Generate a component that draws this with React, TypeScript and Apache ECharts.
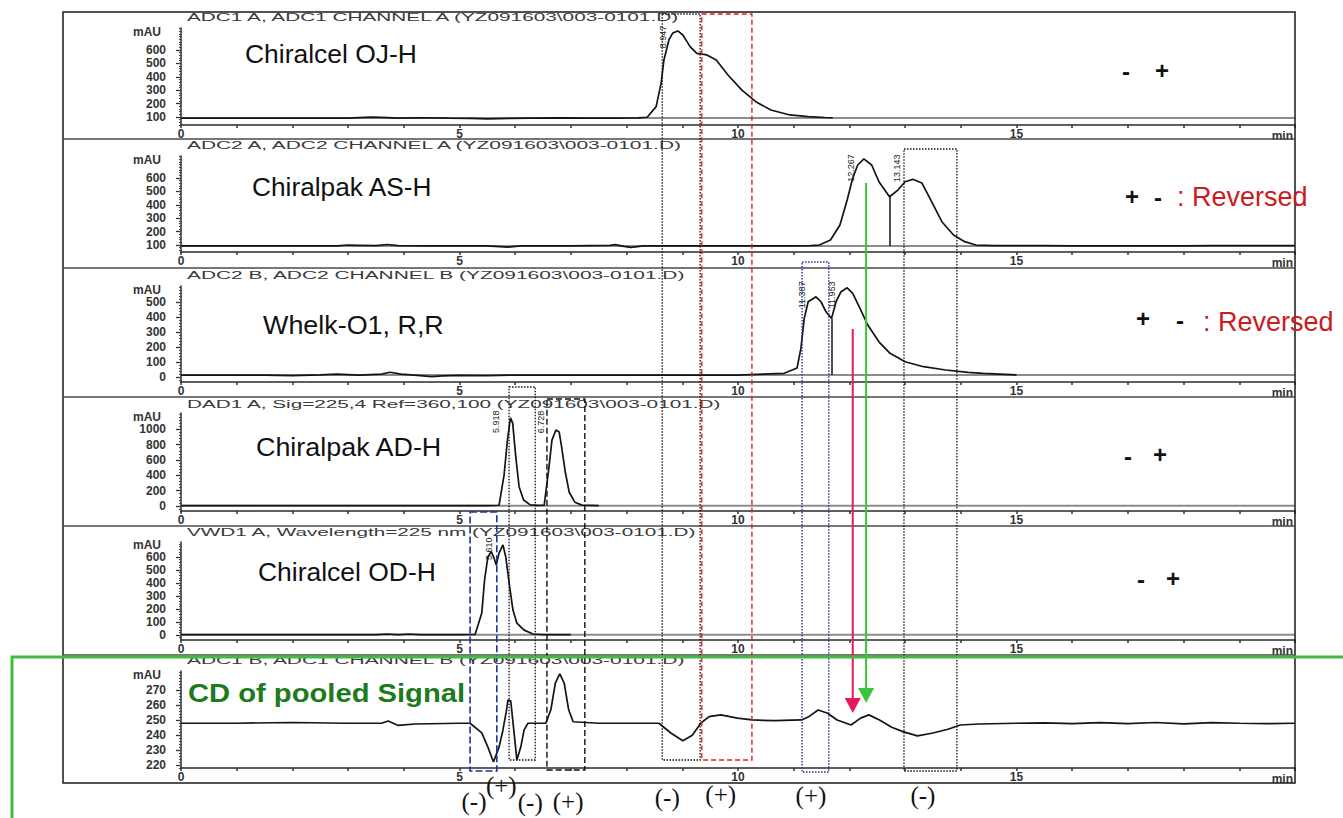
import React, { useEffect, useRef } from "react";
import * as echarts from "echarts";

// ---------------- data ----------------
const panelNames = ["Chiralcel OJ-H", "Chiralpak AS-H", "Whelk-O1, R,R", "Chiralpak AD-H", "Chiralcel OD-H"];
const panelTitles = [
  "ADC1 A, ADC1 CHANNEL A (YZ091603\\003-0101.D)",
  "ADC2 A, ADC2 CHANNEL A (YZ091603\\003-0101.D)",
  "ADC2 B, ADC2 CHANNEL B (YZ091603\\003-0101.D)",
  "DAD1 A, Sig=225,4 Ref=360,100 (YZ091603\\003-0101.D)",
  "VWD1 A, Wavelength=225 nm (YZ091603\\003-0101.D)",
  "ADC1 B, ADC1 CHANNEL B (YZ091603\\003-0101.D)",
];
const cdLabel = "CD of pooled Signal";
const xTickLabels = [0, 5, 10, 15];
const minuteTicks = [0, 1, 2, 3, 4, 5, 6, 7, 8, 9, 10, 11, 12, 13, 14, 15, 16, 17, 18, 19, 20];
const yTicksOJ = [100, 200, 300, 400, 500, 600];
const yTicksAS = [100, 200, 300, 400, 500, 600];
const yTicksWhelk = [0, 100, 200, 300, 400, 500];
const yTicksAD = [0, 200, 400, 600, 800, 1000];
const yTicksOD = [0, 100, 200, 300, 400, 500, 600];
const yTicksCD = [220, 230, 240, 250, 260, 270];

const ojTime = [0, 0.8, 1.5, 2.2, 3.0, 3.4, 3.6, 3.9, 4.3, 4.8,
  5.2, 5.5, 5.9, 6.3, 6.8, 7.3, 7.8, 8.2, 8.37, 8.53,
  8.62, 8.67, 8.76, 8.83, 8.92, 9.01, 9.14, 9.26, 9.44, 9.61,
  9.82, 10.07, 10.32, 10.59, 10.93, 11.26, 11.56, 11.7];
const ojSignal = [92, 92, 91, 92, 92, 99, 97, 92, 94, 91,
  89, 86, 90, 92, 93, 91, 92, 93, 98, 177,
  353, 525, 675, 727, 742, 712, 625, 575, 563, 525,
  413, 300, 214, 152, 115, 102, 96, 94];

const asTime = [0, 1.0, 2.0, 2.8, 3.0, 3.2, 3.5, 3.7, 3.9, 4.5,
  5.5, 5.87, 6.1, 7.0, 7.7, 7.8, 7.95, 8.08, 8.3, 9.0,
  10.0, 11.0, 11.3, 11.46, 11.66, 11.83, 11.96, 12.06, 12.15, 12.26,
  12.40, 12.53, 12.72, 12.87, 13.0, 13.14, 13.30, 13.46, 13.66, 13.87,
  14.07, 14.27, 14.6, 15.5, 16.0, 17.0, 18.0, 18.5, 19.0, 20];
const asSignal = [93, 93, 93, 93, 100, 98, 95, 104, 95, 93,
  93, 85, 93, 93, 97, 103, 90, 82, 93, 93,
  93, 94, 96, 100, 137, 249, 436, 600, 697, 742,
  697, 572, 460, 510, 572, 590, 563, 436, 274, 175,
  125, 100, 96, 95, 93, 93, 94, 96, 95, 95];

const whelkTime = [0, 1.5, 2.0, 2.5, 2.8, 3.2, 3.6, 3.75, 3.95, 4.3,
  4.5, 4.7, 5.0, 5.5, 6.0, 8.0, 10.0, 10.83, 11.06, 11.13,
  11.19, 11.26, 11.40, 11.49, 11.58, 11.68, 11.76, 11.85, 11.96, 12.06,
  12.19, 12.33, 12.53, 12.73, 13.0, 13.33, 13.73, 14.13, 14.4, 14.8,
  15.0];
const whelkSignal = [15, 15, 12, 16, 21, 15, 22, 34, 22, 12,
  5, 10, 13, 12, 15, 15, 15, 27, 62, 195,
  395, 504, 537, 504, 437, 393, 504, 571, 597, 560,
  460, 349, 237, 160, 104, 71, 49, 33, 27, 20,
  16];

const adTime = [0, 2, 4, 5.0, 5.5, 5.71, 5.80, 5.86, 5.915, 5.955,
  6.01, 6.07, 6.15, 6.27, 6.4, 6.52, 6.60, 6.66, 6.73, 6.79,
  6.84, 6.90, 6.97, 7.07, 7.2, 7.5];
const adSignal = [5, 5, 5, 5, 5, 10, 404, 860, 1150, 1080,
  643, 252, 78, 15, 8, 10, 469, 860, 990, 965,
  740, 440, 180, 50, 12, 5];

const odTime = [0, 3.5, 3.7, 3.9, 4.1, 4.3, 4.5, 5.0, 5.28, 5.40,
  5.45, 5.51, 5.57, 5.62, 5.66, 5.71, 5.78, 5.83, 5.90, 5.96,
  6.03, 6.16, 6.32, 6.5, 7.0];
const odSignal = [3, 3, 8, 3, 8, 3, 3, 3, 5, 169,
  423, 602, 641, 592, 538, 630, 692, 602, 372, 192,
  92, 38, 8, 3, 3];

const cdTime = [0, 1, 2, 3, 3.6, 3.72, 3.9, 4.2, 5.0, 5.19,
  5.40, 5.51, 5.61, 5.71, 5.78, 5.84, 5.87, 5.92, 5.98, 6.03,
  6.10, 6.16, 6.23, 6.55, 6.64, 6.72, 6.80, 6.88, 6.96, 7.04,
  7.5, 8.3, 8.58, 8.80, 9.01, 9.18, 9.33, 9.48, 9.69, 9.99,
  10.25, 10.66, 11.14, 11.27, 11.44, 11.61, 11.78, 12.03, 12.20, 12.35,
  12.54, 12.76, 12.96, 13.22, 13.48, 13.77, 13.99, 14.33, 15, 15.5,
  16, 16.5, 17, 17.5, 18, 18.5, 19, 19.5, 20];
const cdSignal = [248, 248, 248.5, 248, 248, 249.5, 246.5, 247.5, 248, 248,
  241.5, 232, 222, 232, 243.5, 256, 263.6, 263, 241.5, 223.4,
  232, 243.5, 248, 248, 257, 274.8, 281, 274.8, 257, 249,
  248, 248, 248, 241.3, 236.3, 240, 248, 252.4, 253.6, 251.4,
  250.2, 249.7, 250.2, 252.4, 256.9, 254.7, 250.2, 246.8, 251.4, 253.6,
  250.2, 245.3, 242.4, 239.5, 241.3, 244, 246.8, 247.5, 248, 248.3,
  247.7, 248.4, 247.8, 248.5, 247.6, 248.4, 248, 247.7, 248];

const baselines = [92, 93, 15, 2, 2];
const peakTimes = [[8.92], [12.26, 13.14], [11.40, 11.96], [5.915, 6.73], [5.57], []];
const peakValues = [[742], [742, 590], [537, 597], [1150, 990], [641], []];
const peakLabels = [["8.947"], ["12.267", "13.143"], ["11.387", "11.953"], ["5.918", "6.728"], ["5.610"], []];
const dropTimes = [[], [12.72], [11.68], [], [], []];
const dropValues = [[], [460], [393], [], [], []];
const elutionSigns = [["-", "+"], ["+", "-"], ["+", "-"], ["-", "+"], ["-", "+"]];
const reversedText = ": Reversed";
const reversedPanels = [false, true, true, false, false];
const cdSigns = ["(-)", "(+)", "(-)", "(+)", "(-)", "(+)", "(+)", "(-)"];
const cdSignTimes = [5.26, 5.75, 6.27, 6.95, 8.73, 9.69, 11.31, 13.32];
const boxTimes = [[8.64, 9.32], [9.35, 10.25], [12.98, 13.93], [11.15, 11.63], [5.89, 6.36], [6.57, 7.25], [5.19, 5.67]];
const arrowTimes = [12.30, 12.06];

// ---------------- layout / style ----------------
const W = 1343, H = 818;
const SANS = "'Liberation Sans', Arial, Helvetica, sans-serif";
const SERIF = "'Liberation Serif', 'Times New Roman', serif";
const PLOT_LEFT = 181, PLOT_RIGHT = 1295;
const GRID_TOP = [28, 156, 286, 413, 542, 671];
const GRID_BOTTOM = [125, 252, 382, 511, 640, 768];
const Y_MIN = [40, 48, -31, -65, -38, 218];
const Y_MAX = [764, 764, 609, 1213, 715, 283];
const MINOR_STEP = [20, 20, 20, 40, 20, 2];
const Y_TICKS = [yTicksOJ, yTicksAS, yTicksWhelk, yTicksAD, yTicksOD, yTicksCD];
const SIGNALS = [[ojTime, ojSignal], [asTime, asSignal], [whelkTime, whelkSignal], [adTime, adSignal], [odTime, odSignal], [cdTime, cdSignal]];
const TITLE_Y = [17, 145, 275, 404, 532, 660];
const TITLE_W = [497, 500, 500, 535, 510, 500];
const NAME_POS = [[245, 54.5, 172], [252, 187, 181], [263, 325, 181], [256, 447, 187], [258, 572, 178]];
const SIGN_POS = [[[1126, 71], [1162, 70]], [[1132, 196], [1158, 197]], [[1143, 318], [1180, 320]], [[1128, 456], [1160, 454]], [[1141, 579], [1173, 578]]];
const REVERSED_POS = [null, [1177, 197], [1203, 322], null, null];
const PEAK_OFFSET = [[[-15, 6]], [[-13, 9], [-16, -11]], [[-14, -2], [-15, 7]], [[-14, 4], [-15, -8]], [[-2, -3]], []];
const CD_SIGN_Y = [801, 785, 802, 801, 797, 794, 795, 795];
const BOX_STYLE = [
  { top: 14, bottom: 760, color: "#111", dash: [1.5, 1.5], w: 1.3 },
  { top: 14, bottom: 760, color: "#e0201c", dash: [5, 3], w: 1.4 },
  { top: 149, bottom: 771, color: "#111", dash: [1.5, 1.5], w: 1.3 },
  { top: 262, bottom: 772, color: "#2a2aa0", dash: [1.5, 1.5], w: 1.4 },
  { top: 387, bottom: 760, color: "#111", dash: [1.5, 1.5], w: 1.3 },
  { top: 399, bottom: 770, color: "#111", dash: [6, 3], w: 1.4 },
  { top: 512, bottom: 771, color: "#1f3399", dash: [7, 3], w: 1.6 },
];
const ARROW_STYLE = [
  { top: 183, tip: 703, color: "#3cc43c" },
  { top: 329, tip: 713, color: "#e8185c" },
];

let measureCtx: CanvasRenderingContext2D | null = null;
function measure(text: string, font: string) {
  if (!measureCtx) measureCtx = document.createElement("canvas").getContext("2d");
  if (!measureCtx) return 1;
  measureCtx.font = font;
  return measureCtx.measureText(text).width || 1;
}

const plainNumber = (v: number) => String(v);

function buildOption() {
  const grid: any[] = [], xAxis: any[] = [], yAxis: any[] = [], series: any[] = [];
  for (let i = 0; i < 6; i++) {
    grid.push({
      left: PLOT_LEFT, right: W - PLOT_RIGHT, top: GRID_TOP[i], height: GRID_BOTTOM[i] - GRID_TOP[i],
      containLabel: false, outerBoundsMode: "none",
    });
    xAxis.push({
      type: "value", gridIndex: i, min: 0, max: 20,
      axisLine: { show: true, onZero: false, lineStyle: { color: "#2a2a2a", width: 1.5 } },
      axisTick: { show: true, customValues: minuteTicks, length: 3, inside: false, lineStyle: { color: "#333", width: 1.5 } },
      axisLabel: { show: true, customValues: xTickLabels, formatter: plainNumber, fontSize: 12, fontWeight: "bold", color: "#333", fontFamily: SANS, margin: 3 },
      splitLine: { show: false },
      name: "min", nameLocation: "end", nameGap: -2,
      nameTextStyle: { fontSize: 12, fontWeight: "bold", color: "#333", fontFamily: SANS, align: "right", verticalAlign: "top", padding: [5, 0, 0, 0] },
    });
    const minors: number[] = [];
    for (let v = Math.ceil(Y_MIN[i] / MINOR_STEP[i]) * MINOR_STEP[i]; v <= Y_MAX[i]; v += MINOR_STEP[i]) minors.push(v);
    yAxis.push({
      type: "value", gridIndex: i, min: Y_MIN[i], max: Y_MAX[i], position: "left",
      axisLine: { show: true, onZero: false, lineStyle: { color: "#2a2a2a", width: 1.5 } },
      axisTick: { show: true, customValues: Y_TICKS[i], length: 5, lineStyle: { color: "#333", width: 1.3 } },
      axisLabel: { show: true, customValues: Y_TICKS[i], formatter: plainNumber, fontSize: 12, fontWeight: "bold", color: "#333", fontFamily: SANS, margin: 15 },
      splitLine: { show: false },
      name: "mAU", nameLocation: "end", nameGap: -4,
      nameTextStyle: { fontSize: 12, fontWeight: "bold", color: "#333", fontFamily: SANS, align: "right", verticalAlign: "middle", padding: [0, 20, 0, 0] },
    });
    yAxis.push({
      type: "value", gridIndex: i, min: Y_MIN[i], max: Y_MAX[i], position: "left",
      axisLine: { show: false, onZero: false },
      axisTick: { show: true, customValues: minors, length: 2, lineStyle: { color: "#444", width: 1 } },
      axisLabel: { show: false },
      splitLine: { show: false },
    });
    if (i < 5) {
      series.push({
        type: "line", xAxisIndex: i, yAxisIndex: 2 * i, symbol: "none", silent: true, z: 1,
        lineStyle: { color: "#8c8c8c", width: 2 },
        data: [[0, baselines[i]], [20, baselines[i]]],
      });
    }
    const [ts, vs] = SIGNALS[i];
    const markLineData = dropTimes[i].map((t, k) => [
      { coord: [t, i < 5 ? baselines[i] : 248] },
      { coord: [t, dropValues[i][k]] },
    ]);
    series.push({
      type: "line", xAxisIndex: i, yAxisIndex: 2 * i, symbol: "none", z: 3,
      lineStyle: { color: "#141414", width: 1.7 },
      data: ts.map((t, k) => [t, vs[k]]),
      markLine: markLineData.length ? {
        silent: true, symbol: ["none", "none"], label: { show: false },
        lineStyle: { color: "#141414", type: "solid", width: 1.5 },
        data: markLineData,
      } : undefined,
    });
  }
  return { animation: false, backgroundColor: "#ffffff", grid, xAxis, yAxis, series };
}

function txt(text: string, x: number, y: number, o: any = {}) {
  const fontSize = o.fontSize || 12;
  const fontWeight = o.fontWeight || "normal";
  const fontFamily = o.fontFamily || SANS;
  const align = o.align || "left";
  const el: any = {
    type: "text", x, y, z: o.z || 60, silent: true,
    style: {
      text, fill: o.fill || "#111", fontSize, fontWeight, fontFamily,
      align, textAlign: align, verticalAlign: "middle", textVerticalAlign: "middle",
    },
  };
  if (o.rotation) el.rotation = o.rotation;
  if (o.targetWidth) {
    const w = measure(text, `${fontWeight} ${fontSize}px ${fontFamily}`);
    el.scaleX = o.targetWidth / w;
  }
  return el;
}

function buildGraphic(chart: any) {
  const els: any[] = [];
  const px = (t: number) => chart.convertToPixel({ xAxisIndex: 0 }, t);

  // frame and panel separators
  els.push({ type: "rect", z: 5, silent: true, shape: { x: 63, y: 12, width: PLOT_RIGHT - 63, height: 783 - 12 }, style: { fill: "none", stroke: "#1a1a1a", lineWidth: 1.5 } });
  [139, 268, 397, 526, 655].forEach((y) => {
    els.push({ type: "line", z: 5, silent: true, shape: { x1: 63, y1: y, x2: PLOT_RIGHT, y2: y }, style: { stroke: "#4a4a4a", lineWidth: 1.6 } });
  });

  // titles
  panelTitles.forEach((t, i) => {
    els.push(txt(t, 187, TITLE_Y[i], { fontSize: 10, fill: "#3a3a3a", targetWidth: TITLE_W[i], z: 8 }));
  });
  // panel names
  panelNames.forEach((t, i) => {
    const [x, y, w] = NAME_POS[i];
    els.push(txt(t, x, y, { fontSize: 26, fill: "#111", targetWidth: w }));
  });
  els.push(txt(cdLabel, 188, 693, { fontSize: 26, fontWeight: "bold", fill: "#1d7a1d", targetWidth: 277 }));

  // elution order signs
  elutionSigns.forEach((pair, i) => {
    pair.forEach((s, k) => {
      const [x, y] = SIGN_POS[i][k];
      els.push(txt(s, x, y, { fontSize: 24, fontWeight: "bold", fill: "#111", align: "center" }));
    });
    const rp = REVERSED_POS[i];
    if (reversedPanels[i] && rp) els.push(txt(reversedText, rp[0], rp[1], { fontSize: 27, fill: "#cc1b1b", z: 70 }));
  });

  // peak retention-time labels
  peakTimes.forEach((ts, i) => {
    ts.forEach((t, k) => {
      const p = chart.convertToPixel({ xAxisIndex: i, yAxisIndex: 2 * i }, [t, peakValues[i][k]]);
      const off = PEAK_OFFSET[i][k];
      els.push(txt(peakLabels[i][k], p[0] + off[0], p[1] + off[1], { fontSize: 9, fill: "#222", align: "center", rotation: Math.PI / 2, z: 40 }));
    });
  });

  // boxes
  boxTimes.forEach((bt, k) => {
    const s = BOX_STYLE[k];
    const x0 = px(bt[0]), x1 = px(bt[1]);
    els.push({
      type: "rect", z: 50, silent: true,
      shape: { x: x0, y: s.top, width: x1 - x0, height: s.bottom - s.top },
      style: { fill: "none", stroke: s.color, lineWidth: s.w, lineDash: s.dash },
    });
  });

  // arrows
  arrowTimes.forEach((t, k) => {
    const s = ARROW_STYLE[k];
    const x = px(t);
    els.push({ type: "line", z: 55, silent: true, shape: { x1: x, y1: s.top, x2: x, y2: s.tip - 12 }, style: { stroke: s.color, lineWidth: 2 } });
    els.push({ type: "polygon", z: 55, silent: true, shape: { points: [[x - 8, s.tip - 15], [x + 8, s.tip - 15], [x, s.tip]] }, style: { fill: s.color } });
  });

  // CD sign annotations
  cdSigns.forEach((s, k) => {
    els.push(txt(s, px(cdSignTimes[k]), CD_SIGN_Y[k], { fontSize: 25, fontFamily: SERIF, fill: "#111", align: "center" }));
  });

  // green highlight frame
  els.push({
    type: "polyline", z: 90, silent: true,
    shape: { points: [[W + 5, 657], [12, 657], [12, H + 5]] },
    style: { fill: "none", stroke: "#45b945", lineWidth: 3 },
  });
  return els;
}

export default function App() {
  const ref = useRef<HTMLDivElement>(null);
  useEffect(() => {
    const el = ref.current;
    if (!el) return;
    const chart = echarts.init(el, null, { renderer: "svg" });
    chart.setOption(buildOption() as any);
    chart.setOption({ graphic: buildGraphic(chart) } as any);
    return () => chart.dispose();
  }, []);
  return (
    <div
      ref={ref}
      style={{ position: "absolute", left: 0, top: 0, width: W, height: H, background: "#fff" }}
    />
  );
}
